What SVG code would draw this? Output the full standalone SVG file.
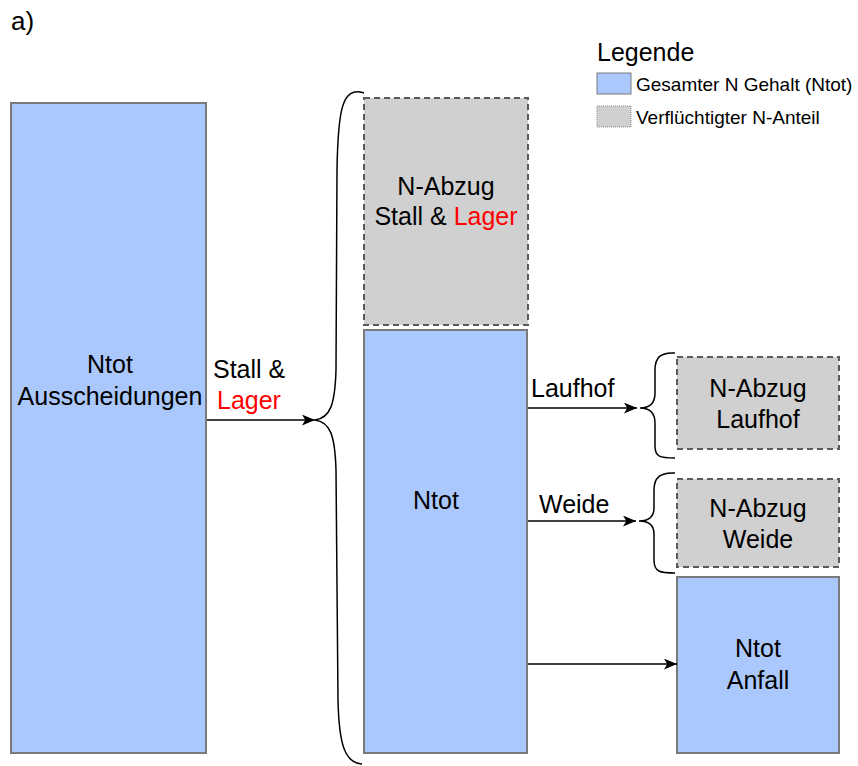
<svg xmlns="http://www.w3.org/2000/svg" width="858" height="766" viewBox="0 0 858 766">
<defs>
<style>
text{font-family:"Liberation Sans",Arial,sans-serif;fill:#000}
.lbl{font-size:25px}
.c{text-anchor:middle}
.red{fill:#ff0000}
.blue{fill:#abc8fd;stroke:#7a7a7a;stroke-width:2}
.gray{fill:#d0d0d0;stroke:#5a5a5a;stroke-width:2;stroke-dasharray:6,4}
.line{fill:none;stroke:#000;stroke-width:1.6}
.brace{fill:none;stroke:#000;stroke-width:1.5}
</style>
<marker id="ah" viewBox="0 0 12 10" refX="12" refY="5" markerWidth="13" markerHeight="11" markerUnits="userSpaceOnUse" orient="auto">
<path d="M0,0 L12,5 L0,10 L3,5 Z" fill="#000"/>
</marker>
</defs>
<rect width="858" height="766" fill="#fff"/>
<text x="11" y="30" style="font-size:26px">a)</text>
<g id="legend">
<text x="597" y="61" style="font-size:25px">Legende</text>
<rect x="597" y="73" width="34" height="21" fill="#abc8fd" stroke="#7a7a7a" stroke-width="1"/>
<text x="636" y="91" style="font-size:19px">Gesamter N Gehalt (Ntot)</text>
<rect x="597" y="106" width="34" height="21" fill="#d0d0d0" stroke="#888" stroke-width="1" stroke-dasharray="1,1"/>
<text x="636" y="124" style="font-size:19px">Verflüchtigter N-Anteil</text>
</g>
<g id="ntot-ausscheidungen">
<rect x="11" y="103" width="195" height="650" class="blue"/>
<text x="110" y="373" class="lbl c">Ntot</text>
<text x="110" y="405" class="lbl c">Ausscheidungen</text>
</g>
<g id="n-abzug-stall">
<rect x="364" y="98" width="164" height="227" class="gray"/>
<text x="446" y="195" class="lbl c">N-Abzug</text>
<text x="446" y="225" class="lbl c">Stall &amp; <tspan class="red">Lager</tspan></text>
</g>
<g id="ntot">
<rect x="364" y="330" width="163" height="423" class="blue"/>
<text x="436" y="509" class="lbl c">Ntot</text>
</g>
<g id="n-abzug-laufhof">
<rect x="677" y="357" width="162" height="92" class="gray"/>
<text x="758" y="397" class="lbl c">N-Abzug</text>
<text x="758" y="428" class="lbl c">Laufhof</text>
</g>
<g id="n-abzug-weide">
<rect x="677" y="479" width="162" height="88" class="gray"/>
<text x="758" y="517" class="lbl c">N-Abzug</text>
<text x="758" y="548" class="lbl c">Weide</text>
</g>
<g id="ntot-anfall">
<rect x="677" y="577" width="162" height="176" class="blue"/>
<text x="758" y="657" class="lbl c">Ntot</text>
<text x="758" y="689" class="lbl c">Anfall</text>
</g>
<g id="connectors">
<path d="M364,93 C 342,86 338,110 337,170 L 336,370 C 335,405 330,418 315,420 C 330,422 335,435 336,470 L 338,700 C 339,745 345,763 362,764" class="brace"/>
<path d="M675,353 C 660,352 655,358 655,370 L 655,393 C 655,404 649,408 640,408 C 649,408 655,412 655,423 L 655,446 C 655,457 660,458 675,458" class="brace"/>
<path d="M675,473 C 660,472 654,478 654,490 L 654,508 C 654,518 648,521 639,521 C 648,521 654,524 654,534 L 654,560 C 654,572 660,573 675,573" class="brace"/>
<line x1="207" y1="420" x2="315" y2="420" class="line" marker-end="url(#ah)"/>
<line x1="528" y1="408" x2="637" y2="408" class="line" marker-end="url(#ah)"/>
<line x1="528" y1="521" x2="636" y2="521" class="line" marker-end="url(#ah)"/>
<line x1="528" y1="664" x2="677" y2="664" class="line" marker-end="url(#ah)"/>
<text x="213" y="378" class="lbl">Stall &amp;</text>
<text x="217" y="409" class="lbl red">Lager</text>
<text x="531" y="397" class="lbl">Laufhof</text>
<text x="539" y="513" class="lbl">Weide</text>
</g>
</svg>
